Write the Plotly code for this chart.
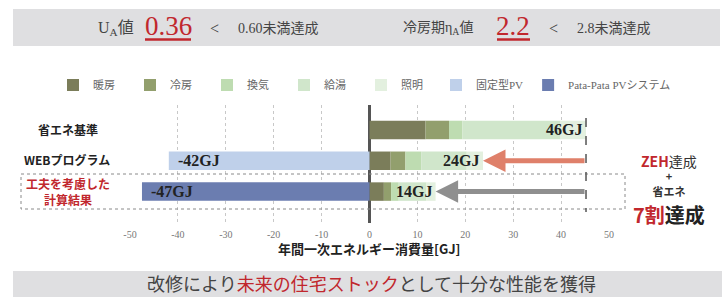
import plotly.graph_objects as go

# ---------------- data ----------------
categories = ["省エネ基準", "WEBプログラム", "工夫を考慮した計算結果"]
heating = [11.7, 4.4, 3.0]        # 暖房
cooling = [4.9, 3.1, 1.5]         # 冷房
ventilation = [2.8, 3.3, 1.6]     # 換気
hot_water = [20.5, 9.5, 5.8]      # 給湯
lighting = [5.3, 3.4, 1.9]        # 照明
pv_fixed = [0, -41.9, 0]          # 固定型PV
pv_patapata = [0, 0, -47.5]       # Pata-Pata PVシステム
total_labels = ["46GJ", "24GJ", "14GJ"]
pv_labels = ["", "-42GJ", "-47GJ"]
x_ticks = [-50, -40, -30, -20, -10, 0, 10, 20, 30, 40, 50]

series = [
    ("暖房", heating, "#7b7d5a", "legend"),
    ("冷房", cooling, "#929f6d", "legend"),
    ("換気", ventilation, "#bedcb1", "legend"),
    ("給湯", hot_water, "#d0e6cb", "legend"),
    ("照明", lighting, "#e3f0df", "legend"),
    ("固定型PV", pv_fixed, "#bfd0ea", "legend2"),
    ("Pata-Pata PVシステム", pv_patapata, "#6b7db0", "legend2"),
]

W, H = 722, 297
L, R, T, B = 130, 113, 105, 74
PW, PH = W - L - R, H - T - B


def px(x):
    return (x - L) / PW


def py(y):
    return (H - B - y) / PH


SERIF = "Liberation Serif, Noto Sans CJK JP"
SANS = "Noto Sans CJK JP"
RED = "#c1272d"

fig = go.Figure()
for name, vals, col, lg in series:
    fig.add_trace(go.Bar(
        y=categories, x=vals, name=name, orientation="h", legend=lg,
        marker=dict(color=col, line=dict(width=0)), width=0.6,
        hoverinfo="skip",
    ))

totals = [sum(v) for v in zip(heating, cooling, ventilation, hot_water, lighting)]
negs = [a + b for a, b in zip(pv_fixed, pv_patapata)]

ann = []
# bar value labels
for c, t, lab in zip(categories, totals, total_labels):
    ann.append(dict(x=t, y=c, xref="x", yref="y", text="<b>%s</b>" % lab,
                    showarrow=False, xanchor="right", xshift=-2,
                    font=dict(family=SERIF, size=16, color="#222")))
for c, n, lab in zip(categories, negs, pv_labels):
    if lab:
        ann.append(dict(x=n, y=c, xref="x", yref="y", text="<b>%s</b>" % lab,
                        showarrow=False, xanchor="left", xshift=7,
                        font=dict(family=SERIF, size=16, color="#222")))
# arrows
ann.append(dict(x=totals[1], y=categories[1], ax=totals[0], ay=categories[1],
                xref="x", yref="y", axref="x", ayref="y", text="", showarrow=True,
                arrowhead=2, arrowsize=0.9, arrowwidth=5, arrowcolor="#df806a", standoff=0))
ann.append(dict(x=totals[2], y=categories[2], ax=totals[0], ay=categories[2],
                xref="x", yref="y", axref="x", ayref="y", text="", showarrow=True,
                arrowhead=2, arrowsize=0.9, arrowwidth=5, arrowcolor="#8f8f8f", standoff=0))


def txt(x, y, text, size, color="#444", family=SERIF, xanchor="center"):
    ann.append(dict(x=px(x), y=py(y), xref="paper", yref="paper", text=text,
                    showarrow=False, xanchor=xanchor, yanchor="middle",
                    font=dict(family=family, size=size, color=color)))


# top banner text
txt(96, 28, "U<sub>A</sub>値", 16, xanchor="left")
txt(168, 26, "0.36", 27, RED)
txt(214, 28, "<", 16)
txt(236, 28, "0.60未満達成", 14, xanchor="left")
txt(401, 28, "冷房期η<sub>A</sub>値", 14, xanchor="left")
txt(513, 26, "2.2", 27, RED)
txt(553, 28, "<", 16)
txt(575, 28, "2.8未満達成", 14, xanchor="left")

# category labels
txt(68, 129, "<b>省エネ基準</b>", 12, "#222", SANS)
txt(67, 159, "<b>WEBプログラム</b>", 12, "#222", SANS)
txt(68, 191, "<b>工夫を考慮した<br>計算結果</b>", 12, RED, SANS)

# right side note
txt(669, 175, "<span style='font-size:14px'><span style='color:%s'><b>ZEH</b></span>達成</span>"
    "<br><b>+</b><br><b>省エネ</b>" % RED, 11, "#333", SANS)
txt(669, 214, "<b><span style='color:%s'>7割</span>達成</b>" % RED, 20, "#222", SANS)

# axis title
txt((L + W - R) / 2, 248, "<b>年間一次エネルギー消費量[GJ]</b>", 13, "#222", SANS)

# bottom banner text
txt(371, 283, "改修により<span style='color:%s'>未来の住宅ストック</span>として十分な性能を獲得" % RED,
    18, "#444", SANS)

shapes = [
    dict(type="rect", xref="paper", yref="paper", x0=px(13), x1=px(720), y0=py(9), y1=py(46),
         fillcolor="#dfdfe1", line=dict(width=0), layer="below"),
    dict(type="rect", xref="paper", yref="paper", x0=px(13), x1=px(722), y0=py(271), y1=py(300),
         fillcolor="#dfdfe1", line=dict(width=0), layer="below"),
    dict(type="line", xref="paper", yref="paper", x0=px(145), x1=px(191), y0=py(39.5), y1=py(39.5),
         line=dict(color=RED, width=2.5)),
    dict(type="line", xref="paper", yref="paper", x0=px(497), x1=px(530), y0=py(39.5), y1=py(39.5),
         line=dict(color=RED, width=2.5)),
    dict(type="rect", xref="paper", yref="paper", x0=px(21), x1=px(625), y0=py(174), y1=py(209),
         line=dict(color="#8a8a8a", width=1, dash="dot"), fillcolor="rgba(0,0,0,0)"),
    dict(type="line", xref="x", yref="paper", x0=totals[0], x1=totals[0], y0=py(118), y1=py(212),
         line=dict(color="#555", width=1.5, dash="dash")),
]

legend_font = dict(family=SERIF, size=11, color="#666")
fig.update_layout(
    width=W, height=H,
    margin=dict(l=L, r=R, t=T, b=B),
    paper_bgcolor="white", plot_bgcolor="white",
    barmode="relative",
    showlegend=True,
    legend=dict(orientation="h", x=px(53), y=py(85), xanchor="left", yanchor="middle",
                font=legend_font, entrywidth=32, entrywidthmode="pixels", itemwidth=30,
                traceorder="normal", bgcolor="rgba(0,0,0,0)"),
    legend2=dict(orientation="h", x=px(436), y=py(85), xanchor="left", yanchor="middle",
                 font=legend_font, itemwidth=30, traceorder="normal", bgcolor="rgba(0,0,0,0)"),
    xaxis=dict(range=[-50, 50], tickvals=x_ticks, ticktext=[str(v) for v in x_ticks],
               showgrid=True, gridcolor="#c8c8c8", griddash="dot", gridwidth=1,
               zeroline=True, zerolinecolor="#555", zerolinewidth=3,
               showline=False, ticks="", ticklabelstandoff=4,
               tickfont=dict(family=SERIF, size=10, color="#777"), fixedrange=True),
    yaxis=dict(type="category", categoryorder="array", categoryarray=categories,
               range=[3.02, -0.81], showticklabels=False, showgrid=False,
               zeroline=False, fixedrange=True),
    annotations=ann,
    shapes=shapes,
)

fig.write_html("out.html", config={"displayModeBar": False},
               post_script="document.body.style.margin='0';document.body.style.overflow='hidden';")
